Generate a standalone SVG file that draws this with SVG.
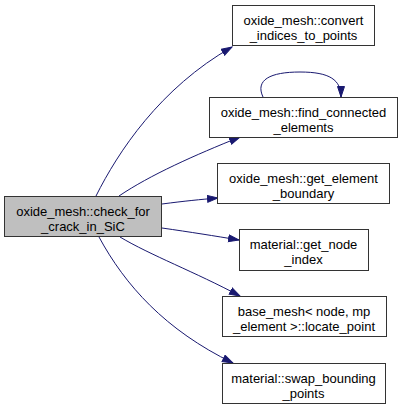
<svg xmlns="http://www.w3.org/2000/svg" width="402" height="410" viewBox="0 0 402 410">
<style>
.node rect{fill:#ffffff;stroke:#333333;stroke-width:1}
.node.main rect{fill:#bfbfbf}
.node text{font-family:"Liberation Sans",Arial,Helvetica,sans-serif;font-size:13px;fill:#000000;text-anchor:middle}
.edges path{fill:none;stroke:#191970;stroke-width:1;marker-end:url(#arrow)}
</style>
<defs>
<marker id="arrow" markerUnits="userSpaceOnUse" markerWidth="12" markerHeight="9" refX="11" refY="4" orient="auto">
<path d="M0.5,0.5 L11,4 L0.5,7.5 z" fill="#191970" stroke="#191970" stroke-width="1"/>
</marker>
</defs>
<rect width="402" height="410" fill="#ffffff"/>
<g id="edges" class="edges">
<path d="M96,196 C118,152 160,88 232,47"/>
<path d="M119,196 C150,175 195,155 240,137"/>
<path d="M162,204 C185,201 200,199.5 218,198"/>
<path d="M162,228 C190,232 215,236 239,240"/>
<path d="M120,237 C150,255 195,272 240,296"/>
<path d="M99,237 C125,285 165,330 233,363"/>
<path d="M263,97 C255,80 270,72 300,72 C330,72 341,80 341,97"/>
</g>
<g id="node_main" class="node main">
<rect x="4.5" y="196.5" width="157" height="40"/>
<text x="83" y="216">oxide_mesh::check_for</text>
<text x="83" y="231">_crack_in_SiC</text>
</g>
<g id="node_convert" class="node">
<rect x="232.5" y="5.5" width="142" height="40"/>
<text x="303.5" y="25">oxide_mesh::convert</text>
<text x="303.5" y="40">_indices_to_points</text>
</g>
<g id="node_find" class="node">
<rect x="209.5" y="97.5" width="188" height="40"/>
<text x="303.5" y="117">oxide_mesh::find_connected</text>
<text x="303.5" y="132">_elements</text>
</g>
<g id="node_boundary" class="node">
<rect x="217.5" y="163.5" width="172" height="40"/>
<text x="303.5" y="183">oxide_mesh::get_element</text>
<text x="303.5" y="198">_boundary</text>
</g>
<g id="node_index" class="node">
<rect x="239.5" y="229.5" width="129" height="41"/>
<text x="303.5" y="249">material::get_node</text>
<text x="303.5" y="264">_index</text>
</g>
<g id="node_locate" class="node">
<rect x="222.5" y="296.5" width="164" height="40"/>
<text x="304" y="316">base_mesh&lt; node, mp</text>
<text x="304" y="331">_element &gt;::locate_point</text>
</g>
<g id="node_swap" class="node">
<rect x="222.5" y="363.5" width="163" height="40"/>
<text x="303.5" y="383">material::swap_bounding</text>
<text x="303.5" y="398">_points</text>
</g>
</svg>
